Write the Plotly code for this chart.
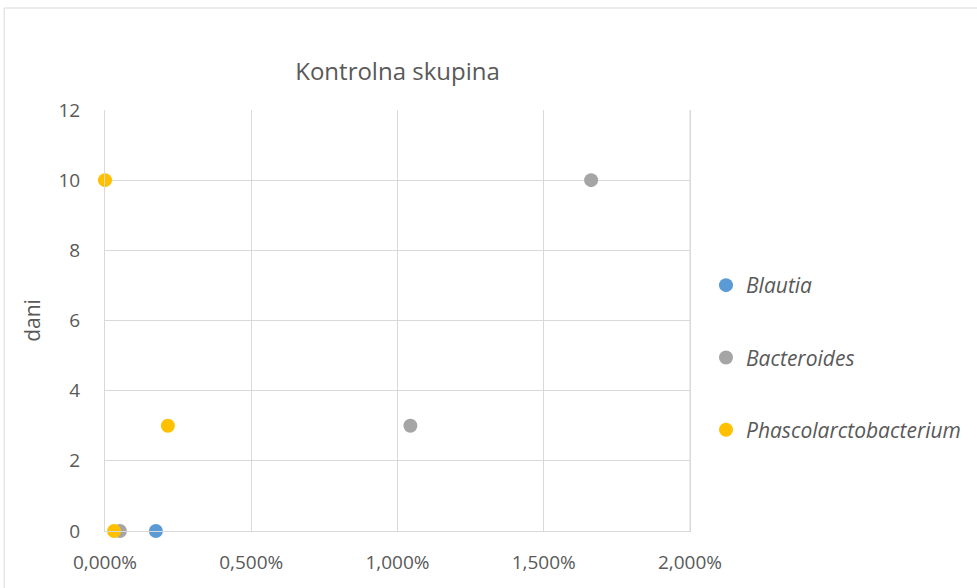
import plotly.graph_objects as go

# Relative abundance (fraction) vs. day for each genus
days_blautia = [0]
abund_blautia = [0.00174]

days_bacteroides = [0, 3, 10]
abund_bacteroides = [0.00051, 0.01044, 0.01662]

days_phasco = [0, 3, 10]
abund_phasco = [0.00031, 0.00215, 0.0]

series = [
    ("Blautia", abund_blautia, days_blautia, "#5B9BD5"),
    ("Bacteroides", abund_bacteroides, days_bacteroides, "#A5A5A5"),
    ("Phascolarctobacterium", abund_phasco, days_phasco, "#FFC000"),
]

FONT = "Open Sans, Liberation Sans, sans-serif"
TXT = "#595959"
GRID = "#D9D9D9"

fig = go.Figure()
for name, xs, ys, col in series:
    fig.add_trace(go.Scatter(
        x=xs, y=ys, mode="markers", name=f"<i>{name}</i>",
        legendgroup=name,
        marker=dict(color=col, size=14, line=dict(width=0)),
        cliponaxis=False,
    ))

L, R, T, B = 105, 286, 110, 57
W, H = 977, 588
pw, ph = W - L - R, H - T - B

def px(x):
    return (x - L) / pw

def py(y):
    return (H - B - y) / ph

fig.update_layout(
    width=W, height=H,
    margin=dict(l=L, r=R, t=T, b=B),
    paper_bgcolor="white", plot_bgcolor="white",
    separators=", ",
    font=dict(family=FONT, size=19, color=TXT),
    title=dict(text="Kontrolna skupina", xref="paper", x=0.5, xanchor="center",
               yref="container", y=1 - 72 / H, yanchor="middle",
               font=dict(size=24, color=TXT, family=FONT)),
    xaxis=dict(range=[0, 0.02], dtick=0.005, tickformat=".3%",
               showgrid=True, gridcolor=GRID, gridwidth=1,
               zeroline=False, showline=True, linecolor=GRID,
               ticks="", ticklabelstandoff=14,
               tickfont=dict(size=19, color=TXT)),
    yaxis=dict(range=[0, 12], dtick=2, showgrid=True, gridcolor=GRID,
               gridwidth=1, zeroline=False, showline=True, linecolor=GRID,
               mirror=True, ticks="", ticklabelstandoff=20,
               tickfont=dict(size=19, color=TXT),
               title=dict(text="dani", standoff=12,
                          font=dict(size=21, color=TXT))),
    legend=dict(x=px(706), y=py(265), xanchor="left", yanchor="top",
                tracegroupgap=42, font=dict(size=21, color=TXT, family=FONT),
                itemsizing="trace", bgcolor="rgba(0,0,0,0)"),
    showlegend=True,
)

# right edge of plot area
fig.add_shape(type="line", xref="paper", yref="paper", x0=1, x1=1, y0=0, y1=1,
              line=dict(color=GRID, width=1), layer="below")

# chart outer border
fig.add_shape(type="rect", xref="paper", yref="paper",
              x0=px(4), x1=px(990), y0=py(600), y1=py(8),
              line=dict(color="#D9D9D9", width=1), layer="below")

fig.write_html("out.html")
